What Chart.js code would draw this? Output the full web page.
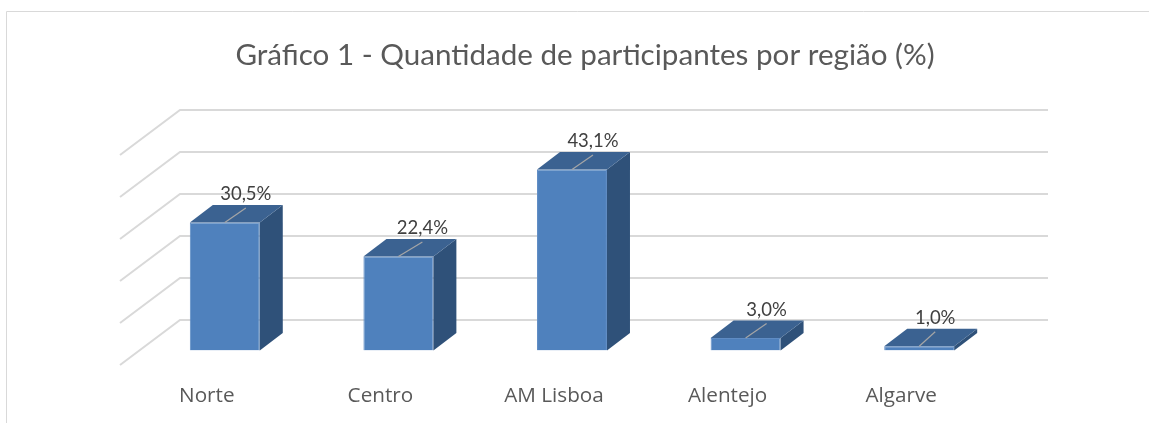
<!DOCTYPE html>
<html>
<head>
<meta charset="utf-8">
<style>
  html, body { margin: 0; background: #fff; overflow: hidden; }
  canvas { display: block; }
</style>
</head>
<body>
<canvas id="chart" width="1149" height="423"></canvas>
<script src="https://cdn.jsdelivr.net/npm/chart.js@4"></script>
<script>
const chartTitle = 'Gráfico 1 - Quantidade de participantes por região (%)';
const regions = ['Norte', 'Centro', 'AM Lisboa', 'Alentejo', 'Algarve'];
const shares = [30.5, 22.4, 43.1, 3.0, 1.0];
const yTicks = [0, 10, 20, 30, 40, 50];

// fake 3D look: the depth of the bars and of the back wall
const barDepth = { x: 23, y: -17.5 };
const wall = { x: 180, right: 1048, floorShift: -30.5 };
const wallSide = { x: 120, y: 45 };
const labelNudge = [0, 3, 0, 0, -5];

const pseudo3d = {
  id: 'pseudo3d',
  beforeDraw(chart) {
    const c = chart.ctx;
    c.save();
    // frame, open on the right and at the bottom
    c.strokeStyle = '#d9d9d9';
    c.lineWidth = 1;
    c.beginPath();
    c.moveTo(1149, 11.5);
    c.lineTo(6.5, 11.5);
    c.lineTo(6.5, 423);
    c.stroke();
    // walls
    c.lineWidth = 2;
    chart.scales.y.ticks.forEach(t => {
      const y = chart.scales.y.getPixelForValue(t.value) + wall.floorShift;
      c.beginPath();
      c.moveTo(wallSide.x, y + wallSide.y);
      c.lineTo(wall.x, y);
      c.lineTo(wall.right, y);
      c.stroke();
    });
    c.restore();
  },
  afterDatasetsDraw(chart) {
    const c = chart.ctx;
    const bars = chart.getDatasetMeta(0).data;
    c.save();
    bars.forEach((bar, i) => {
      const l = bar.x - bar.width / 2, r = bar.x + bar.width / 2;
      const top = bar.y, base = bar.base;
      // side
      c.fillStyle = '#2f5179';
      c.beginPath();
      c.moveTo(r, top);
      c.lineTo(r + barDepth.x, top + barDepth.y);
      c.lineTo(r + barDepth.x, base + barDepth.y);
      c.lineTo(r, base);
      c.closePath();
      c.fill();
      // top
      c.fillStyle = '#3b6291';
      c.beginPath();
      c.moveTo(l, top);
      c.lineTo(l + barDepth.x, top + barDepth.y);
      c.lineTo(r + barDepth.x, top + barDepth.y);
      c.lineTo(r, top);
      c.closePath();
      c.fill();
      // leader line
      const nudge = labelNudge[i];
      c.strokeStyle = '#a6a6a6';
      c.lineWidth = 1.2;
      c.beginPath();
      c.moveTo(bar.x, top);
      c.lineTo(bar.x + 21 + nudge, top - 14.5);
      c.stroke();
      // value
      c.fillStyle = '#404040';
      c.font = '18.5px Lato';
      c.textAlign = 'center';
      c.textBaseline = 'middle';
      c.fillText(shares[i].toFixed(1).replace('.', ',') + '%', bar.x + 21 + nudge, top - 28);
    });
    c.restore();
  }
};

new Chart(document.getElementById('chart'), {
  type: 'bar',
  data: {
    labels: regions,
    datasets: [{
      data: shares,
      backgroundColor: '#4f81bd',
      borderColor: '#5f8cc4',
      borderWidth: 1,
      categoryPercentage: 1,
      barPercentage: 0.403
    }]
  },
  options: {
    responsive: false,
    animation: false,
    layout: { padding: { left: 21, right: 0, top: 0, bottom: 0 } },
    plugins: {
      legend: { display: false },
      tooltip: { enabled: false },
      title: {
        display: true,
        text: chartTitle,
        color: '#595959',
        font: { family: 'Lato', size: 29.6, weight: 'normal' },
        padding: { top: 38, bottom: 67 }
      }
    },
    scales: {
      x: {
        grid: { display: false },
        border: { display: false },
        ticks: { color: '#595959', font: { family: '"Open Sans"', size: 20.7 }, padding: 25, labelOffset: -18, maxRotation: 0 },
        afterFit(s) { s.height = 72.5; }
      },
      y: {
        min: 0,
        max: 50,
        afterBuildTicks(s) { s.ticks = yTicks.map(v => ({ value: v })); },
        grid: { display: false },
        border: { display: false },
        ticks: { display: false },
        afterFit(s) { s.width = 117; }
      },
      // empty axis, only keeps the plot off the right side
      yRight: {
        position: 'right',
        grid: { display: false },
        border: { display: false },
        ticks: { display: false },
        afterFit(s) { s.width = 143; }
      }
    }
  },
  plugins: [pseudo3d]
});
</script>
</body>
</html>
